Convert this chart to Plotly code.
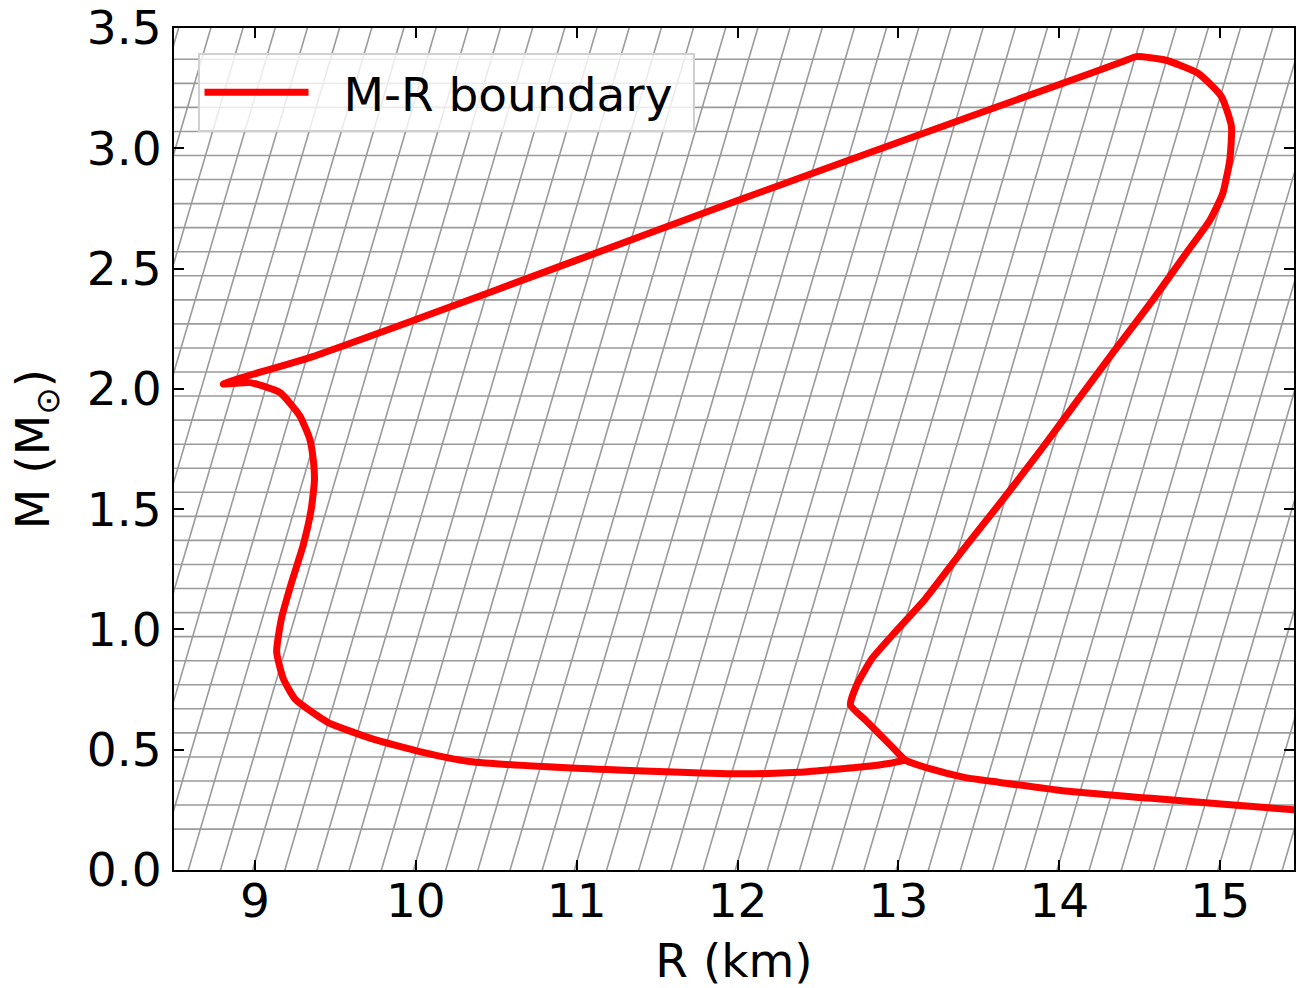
import plotly.graph_objects as go
import numpy as np

# ---- data: M-R boundary (R in km, M in solar masses) ----
R_km = [15.52, 15.006, 14.553, 14.038, 13.622, 13.416, 13.20, 13.043,
        12.95, 12.80, 12.702,
        12.74, 12.836, 12.981, 13.168, 13.40, 13.653, 13.89, 14.119, 14.35, 14.584,
        14.79, 14.935, 15.015, 15.06, 15.07, 15.008, 14.863, 14.657, 14.48,
        14.40, 14.20, 13.0, 12.0, 11.0, 10.0, 9.34, 8.90, 8.803,
        8.88, 8.969, 9.155, 9.279, 9.341, 9.362, 9.37, 9.35, 9.30, 9.23, 9.165, 9.135,
        9.176, 9.25, 9.45, 9.73, 10.024, 10.334, 11.0, 12.0, 12.382, 12.795, 12.95, 13.043]
M_sun = [0.247, 0.274, 0.299, 0.328, 0.365, 0.384, 0.420, 0.457,
         0.519, 0.620, 0.686,
         0.768, 0.879, 0.990, 1.128, 1.33, 1.543, 1.75, 1.957, 2.165, 2.372,
         2.565, 2.70, 2.81, 2.953, 3.091, 3.215, 3.312, 3.367, 3.381,
         3.362, 3.313, 3.025, 2.783, 2.535, 2.288, 2.13, 2.043, 2.02,
         2.023, 2.026, 1.985, 1.888, 1.791, 1.709, 1.62, 1.50, 1.35, 1.20, 1.045, 0.907,
         0.796, 0.71, 0.615, 0.545, 0.492, 0.451, 0.423, 0.400, 0.406, 0.430, 0.444, 0.457]

x_ticks = [9, 10, 11, 12, 13, 14, 15]
y_ticks = [0.0, 0.5, 1.0, 1.5, 2.0, 2.5, 3.0, 3.5]
y_tick_text = ["0.0", "0.5", "1.0", "1.5", "2.0", "2.5", "3.0", "3.5"]

x_range = [8.497, 15.459]
y_range = [0.0, 3.5]

# ---- decorative hatch background (horizontal + slanted lines) ----
hx, hy = [], []
for m in np.arange(0.17, 3.40, 0.1):
    hx += [x_range[0] - 1, x_range[1] + 1, None]
    hy += [m, m, None]
slope = 0.44  # km shift per solar mass
for r0 in np.arange(8.986 - 2.0, 16.2, 0.2):
    hx += [r0 - slope * 0.5, r0 + slope * 4.0, None]
    hy += [-0.5, 4.0, None]

fig = go.Figure()
fig.add_trace(go.Scatter(x=hx, y=hy, mode="lines",
                         line=dict(color="#9a9a9a", width=1.6),
                         hoverinfo="skip", showlegend=False))
fig.add_trace(go.Scatter(x=R_km, y=M_sun, mode="lines",
                         name="\u00a0\u00a0M-R boundary\u00a0",
                         line=dict(color="#ff0000", width=7, shape="spline",
                                   smoothing=0.5)))

font = "DejaVu Sans"
fig.update_layout(
    width=1296, height=988,
    margin=dict(l=174, r=0, t=28, b=116),
    paper_bgcolor="white", plot_bgcolor="white",
    font=dict(family=font, size=47, color="black"),
    showlegend=True,
    legend=dict(x=0.021, y=0.970, xanchor="left", yanchor="top",
                bgcolor="rgba(255,255,255,0.8)", bordercolor="#d0d0d0",
                borderwidth=2, itemwidth=104,
                font=dict(family=font, size=47)),
)
fig.update_xaxes(range=x_range, tickvals=x_ticks, ticks="inside", ticklen=10,
                 tickwidth=2, tickcolor="black", showline=True, linewidth=2,
                 linecolor="black", mirror="ticks", showgrid=False, zeroline=False,
                 tickfont=dict(family=font, size=47), ticklabelstandoff=-11,
                 title=dict(text="R (km)", font=dict(family=font, size=47), standoff=27))
fig.update_yaxes(range=y_range, tickvals=y_ticks, ticktext=y_tick_text, ticks="inside",
                 ticklen=10, tickwidth=2, tickcolor="black", showline=True, linewidth=2,
                 linecolor="black", mirror="ticks", showgrid=False, zeroline=False,
                 tickfont=dict(family=font, size=47), ticklabelstandoff=1,
                 title=dict(text="M (M<sub>⊙</sub>)", font=dict(family=font, size=47),
                            standoff=22))

fig.write_html("out.html")
